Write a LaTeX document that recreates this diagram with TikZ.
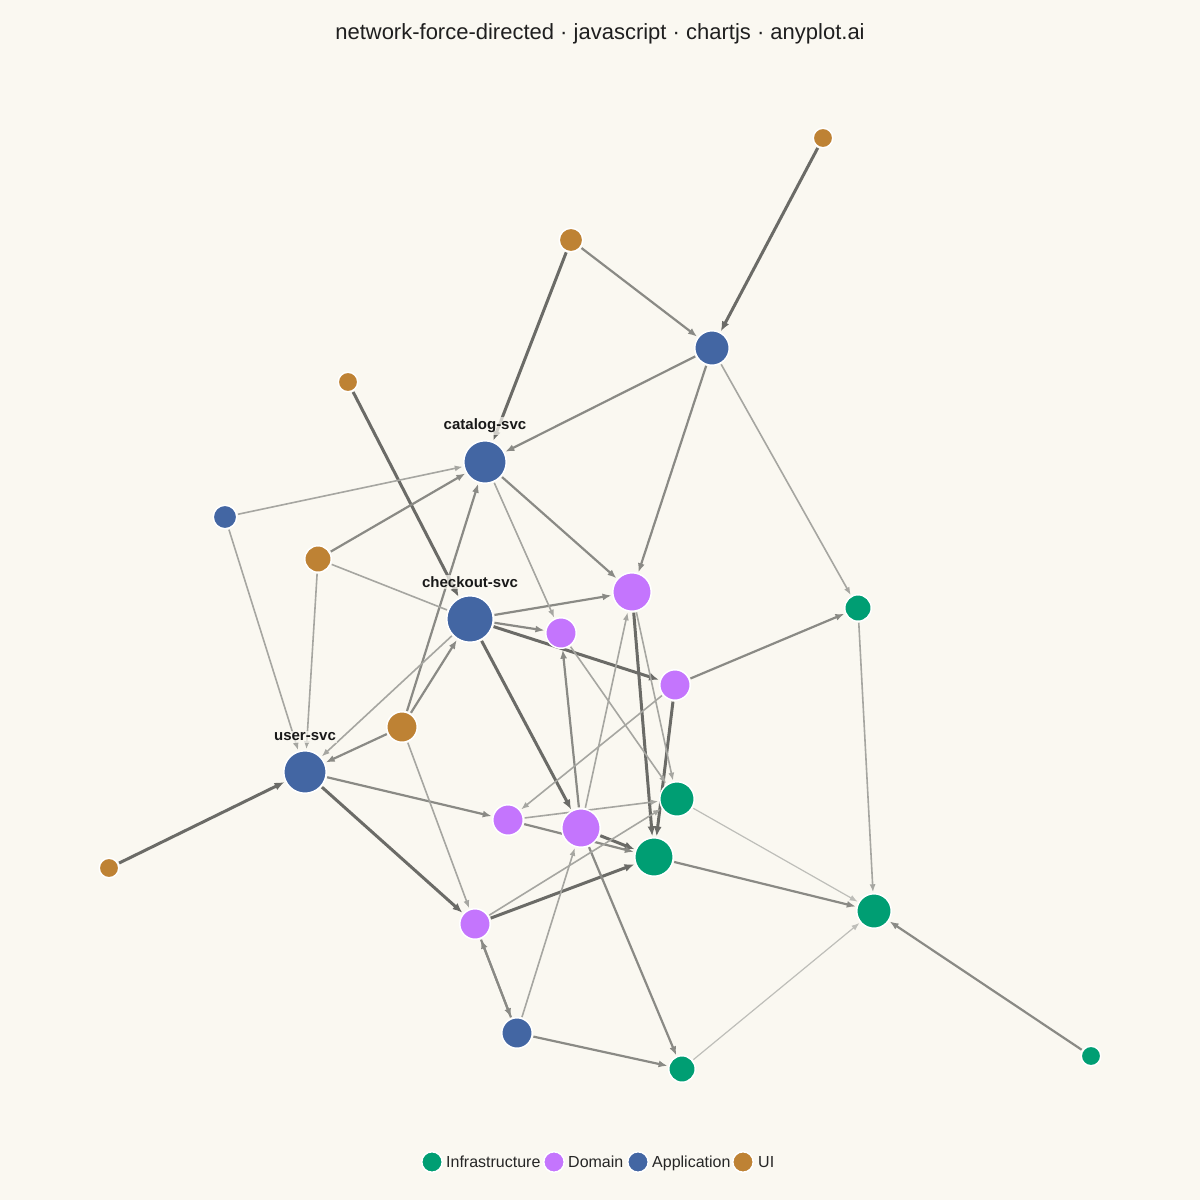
\documentclass[tikz,border=0pt]{standalone}
\usepackage{fontspec}
\setmainfont{Liberation Sans}
\usetikzlibrary{arrows.meta}
\definecolor{bg}{HTML}{FAF8F1}
\definecolor{infra}{HTML}{009E73}
\definecolor{dom}{HTML}{C475FD}
\definecolor{app}{HTML}{4366A3}
\definecolor{ui}{HTML}{BE8234}
\definecolor{ehv}{HTML}{6B6B67}
\definecolor{emd}{HTML}{8A8A85}
\definecolor{elt}{HTML}{A6A6A1}
\definecolor{efn}{HTML}{BEBEB9}
\pgfdeclarelayer{bglayer}
\pgfdeclarelayer{edgelayer}
\pgfsetlayers{bglayer,edgelayer,main}
\begin{document}
\begin{tikzpicture}[x=1pt,y=-1pt,
 nd/.style={circle, draw=white, line width=1.5pt, inner sep=0pt, outer sep=1.5pt},
 ndr/.style={nd, minimum size=2*#1pt-1.5pt},
 hv/.style={draw=ehv, line width=3pt, -{Latex[length=10pt,width=8pt]}},
 md/.style={draw=emd, line width=2.2pt, -{Latex[length=9pt,width=7pt]}},
 lt/.style={draw=elt, line width=1.6pt, -{Latex[length=8pt,width=6pt]}},
 fn/.style={draw=efn, line width=1.2pt, -{Latex[length=8pt,width=6pt]}},
 lbl/.style={font=\bfseries\fontsize{15}{18}\selectfont, text=black!90, fill=bg, fill opacity=0.7, text opacity=1, inner sep=1.5pt},
 legtxt/.style={font=\fontsize{16}{19}\selectfont, text=black!85, anchor=base west, inner sep=0pt},
]
\begin{pgfonlayer}{bglayer}
\path[fill=bg] (0,0) rectangle (1200,1200);
\end{pgfonlayer}
\useasboundingbox (0,0) rectangle (1200,1200);

\node[font=\fontsize{22}{26}\selectfont, text=black!88] (title) at (600,34) {network-force-directed · javascript · chartjs · anyplot.ai};

% UI
\node[ndr=10.5, fill=ui] (U1) at (823,138) {};
\node[ndr=12.5, fill=ui] (U2) at (571,240) {};
\node[ndr=10.5, fill=ui] (U3) at (348,382) {};
\node[ndr=14, fill=ui] (U4) at (318,559) {};
\node[ndr=16, fill=ui] (U5) at (402,727) {};
\node[ndr=10.5, fill=ui] (U6) at (109,868) {};
% Application
\node[ndr=18, fill=app] (A1) at (712,348) {};
\node[ndr=22, fill=app] (A2) at (485,462) {};
\node[ndr=12.5, fill=app] (A3) at (225,517) {};
\node[ndr=24, fill=app] (A4) at (470,619) {};
\node[ndr=22, fill=app] (A5) at (305,772) {};
\node[ndr=16, fill=app] (A6) at (517,1033) {};
% Domain
\node[ndr=20, fill=dom] (D1) at (632,592) {};
\node[ndr=16, fill=dom] (D2) at (561,633) {};
\node[ndr=16, fill=dom] (D3) at (675,685) {};
\node[ndr=16, fill=dom] (D4) at (508,820) {};
\node[ndr=20, fill=dom] (D5) at (581,828) {};
\node[ndr=16, fill=dom] (D6) at (475,924) {};
% Infrastructure
\node[ndr=14, fill=infra] (I1) at (858,608) {};
\node[ndr=18, fill=infra] (I2) at (677,799) {};
\node[ndr=20, fill=infra] (I3) at (654,857) {};
\node[ndr=18, fill=infra] (I4) at (874,911) {};
\node[ndr=14, fill=infra] (I5) at (682,1069) {};
\node[ndr=10.5, fill=infra] (I6) at (1091,1056) {};

\begin{pgfonlayer}{edgelayer}
% heavy
\draw[hv] (U1) -- (A1);
\draw[hv] (U2) -- (A2);
\draw[hv] (U3) -- (A4);
\draw[hv] (U6) -- (A5);
\draw[hv] (A5) -- (D6);
\draw[hv] (A4) -- (D5);
\draw[hv] (A4) -- (D3);
\draw[hv] (D1) -- (I3);
\draw[hv] (D3) -- (I3);
\draw[hv] (D5) -- (I3);
\draw[hv] (D6) -- (I3);
% medium
\draw[md] (A2) -- (D1);
\draw[md] (U5) -- (A2);
\draw[md] (U2) -- (A1);
\draw[md] (A1) -- (A2);
\draw[md] (A1) -- (D1);
\draw[md] (U4) -- (A2);
\draw[md] (U5) -- (A4);
\draw[md] (U5) -- (A5);
\draw[md] (A5) -- (D4);
\draw[md] (A4) -- (D1);
\draw[md] (A4) -- (D2);
\draw[md] (D3) -- (I1);
\draw[md] (D4) -- (I3);
\draw[md] (D5) -- (D2);
\draw[md] (D5) -- (I5);
\draw[md] (A6) -- (I5);
\draw[md] (D6) -- (A6);
\draw[md] (A6) -- (D6);
\draw[md] (I3) -- (I4);
\draw[md] (I6) -- (I4);
% light
\draw[lt] (U4) -- (A5);
\draw[lt] (A1) -- (I1);
\draw[lt] (A3) -- (A2);
\draw[lt] (A3) -- (A5);
\draw[lt, -] (U4) -- (A4);
\draw[lt] (A2) -- (D2);
\draw[lt] (A4) -- (A5);
\draw[lt] (U5) -- (D6);
\draw[lt] (D1) -- (I2);
\draw[lt] (D2) -- (I2);
\draw[lt] (D3) -- (D4);
\draw[lt] (D4) -- (I2);
\draw[lt] (D5) -- (D1);
\draw[lt] (D6) -- (I2);
\draw[lt] (A6) -- (D5);
\draw[lt] (I1) -- (I4);
\draw[fn] (I2) -- (I4);
\draw[fn] (I5) -- (I4);
\end{pgfonlayer}

% labels
\node[lbl] (L2) at (485,426) {catalog-svc};
\node[lbl] (L4) at (470,582) {checkout-svc};
\node[lbl] (L5) at (305,737) {user-svc};

% legend
\node[ndr=11, fill=infra] (G1) at (432,1162) {};
\node[legtxt] (T1) at (446,1167.5) {Infrastructure};
\node[ndr=11, fill=dom] (G2) at (554,1162) {};
\node[legtxt] (T2) at (568,1167.5) {Domain};
\node[ndr=11, fill=app] (G3) at (638,1162) {};
\node[legtxt] (T3) at (652,1167.5) {Application};
\node[ndr=11, fill=ui] (G4) at (743,1162) {};
\node[legtxt] (T4) at (758,1167.5) {UI};
\end{tikzpicture}
\end{document}
